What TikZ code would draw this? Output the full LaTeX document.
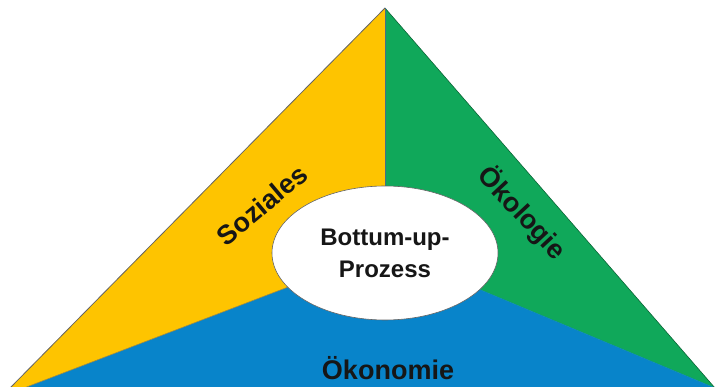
\documentclass[tikz,border=0pt]{standalone}
\usepackage{fontspec}
\setmainfont{Liberation Sans}
\usetikzlibrary{shapes.geometric}
\definecolor{soz}{RGB}{254,196,0}
\definecolor{oek}{RGB}{16,168,90}
\definecolor{oekon}{RGB}{8,132,202}
\definecolor{edge}{RGB}{100,100,100}
\definecolor{txt}{RGB}{22,22,22}
\tikzset{
  region/.style={draw=edge, line width=0.8pt, line join=round},
  label/.style={font=\bfseries\fontsize{27}{27}\selectfont, text=txt, inner sep=0pt},
  core/.style={ellipse, draw=edge, line width=0.6pt, fill=white, minimum width=226pt, minimum height=134pt, inner sep=0pt, align=center, font=\bfseries\fontsize{24}{32}\selectfont, text=txt}
}
\begin{document}
\begin{tikzpicture}[x=1pt,y=-1pt]
\useasboundingbox (0,0) rectangle (716,387);
\coordinate (A) at (385,8);
\coordinate (L) at (10,388);
\coordinate (Lb) at (24,388);
\coordinate (R) at (715,388);
\coordinate (C) at (385,250);
\fill[soz] (A) -- (L) -- (Lb) -- (C) -- cycle;
\fill[oek] (A) -- (C) -- (R) -- cycle;
\fill[oekon] (Lb) -- (C) -- (R) -- cycle;
\draw[edge, line width=0.8pt] (L) -- (A);
\draw[oek!60!black, line width=0.6pt] (A) -- (R);
\draw[edge!70!oekon, line width=0.6pt] (A) -- (C);
\draw[edge!60!soz, line width=0.6pt] (Lb) -- (C);
\draw[oekon!80!oek, line width=0.6pt] (C) -- (R);
\node[core] (bp) at (385,253) {Bottum-up-\\Prozess};
\node[label, rotate=40] (s) at (262,205) {Soziales};
\node[label, rotate=-47] (o) at (522,213) {Ökologie};
\node[label] (k) at (388,368) {Ökonomie};
\end{tikzpicture}
\end{document}
